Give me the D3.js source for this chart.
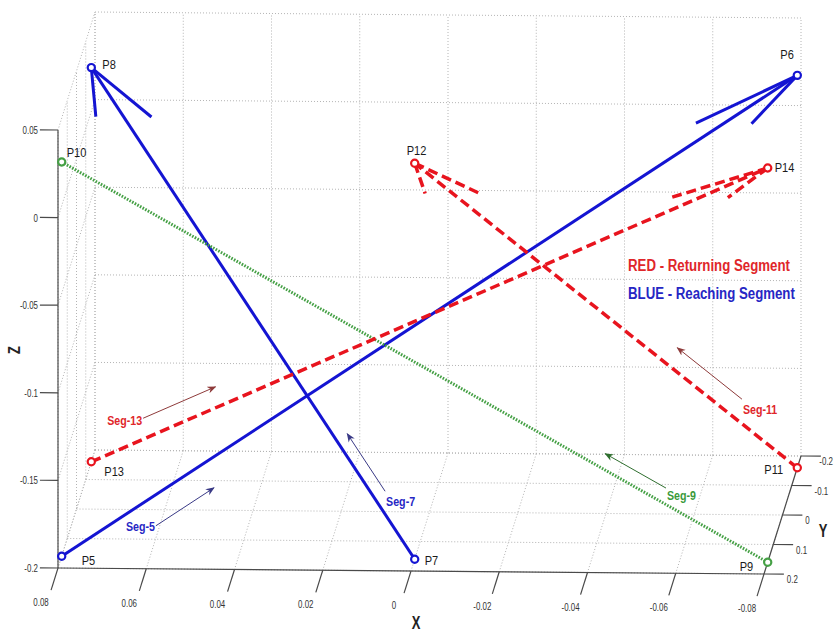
<!DOCTYPE html>
<html>
<head>
<meta charset="utf-8">
<script src="https://cdn.jsdelivr.net/npm/d3@7"></script>
<style>
  body { margin: 0; background: #fff; }
  svg { display: block; font-family: "Liberation Sans", Arial, sans-serif; }
</style>
</head>
<body>
<div id="chart"></div>
<script>
// points (x, y, z)
const pointNames = ["P5", "P6", "P7", "P8", "P9", "P10", "P11", "P12", "P13", "P14"];
const pointX = [0.08, -0.08, 0.0, 0.08, -0.08, 0.08, -0.08, 0.0, 0.08, -0.08];
const pointY = [0.16, -0.16, 0.16, -0.16, 0.16, 0.16, -0.16, 0.16, -0.16, 0.16];
const pointZ = [-0.2, 0.024, -0.2, 0.025, -0.2, 0.025, -0.2, 0.026, -0.2, 0.025];

// segments
const segNames = ["Seg-5", "Seg-7", "Seg-9", "Seg-11", "Seg-13"];
const segFrom = ["P5", "P7", "P9", "P11", "P13"];
const segTo = ["P6", "P8", "P10", "P12", "P14"];
const segKind = ["reach", "reach", "other", "return", "return"];

// ticks
const xTicks = [0.08, 0.06, 0.04, 0.02, 0, -0.02, -0.04, -0.06, -0.08];
const yTicks = [-0.2, -0.1, 0, 0.1, 0.2];
const zTicks = [0.05, 0, -0.05, -0.1, -0.15, -0.2];
const xTickLabels = ["0.08", "0.06", "0.04", "0.02", "0", "-0.02", "-0.04", "-0.06", "-0.08"];
const yTickLabels = ["-0.2", "-0.1", "0", "0.1", "0.2"];
const zTickLabels = ["0.05", "0", "-0.05", "-0.1", "-0.15", "-0.2"];

const legendLines = ["RED - Returning Segment", "BLUE - Reaching Segment"];

const W = 834, H = 635;
const xDom = [0.08, -0.08], yDom = [0.2, -0.2], zDom = [-0.2, 0.05];

// oblique projection built from linear scales
const sx = d3.scaleLinear().domain(xDom).range([58, 764]);
const sz = d3.scaleLinear().domain(zDom).range([568, 130]);
const depthX = d3.scaleLinear().domain(yDom).range([0, 37]);
const depthY = d3.scaleLinear().domain(yDom).range([0, -118]);
const tiltY = d3.scaleLinear().domain(xDom).range([0, 6]);
const proj = p => [sx(p[0]) + depthX(p[1]), sz(p[2]) + depthY(p[1]) + tiltY(p[0])];

const styles = {
  reach: { color: "#1414d2", dash: null, width: 3 },
  return: { color: "#e8141e", dash: "10,5", width: 3.5 },
  other: { color: "#45a045", dash: "1.6,1.4", width: 3 }
};
const segLabelColor = { reach: "#2626c4", return: "#e0262a", other: "#3a9a3a" };
const annotColor = { reach: "#3a3a86", return: "#8e3a3a", other: "#2e6e2e" };

// label offsets for the point names (px)
const pointLabelOffset = {
  P5: [20, 9], P6: [-17, -16], P7: [10, 6], P8: [11, 1], P9: [-28, 9],
  P10: [5, -5], P11: [-33, 6], P12: [-8, -8], P13: [13, 14], P14: [7, 4]
};
// annotation arrows: fraction along segment, offset from segment (px), label placement
const annotT = { "Seg-5": [0.109, 0.188], "Seg-7": [0.124, 0.241], "Seg-9": [0.154, 0.24], "Seg-11": [0.176, 0.345], "Seg-13": [0.088, 0.195] };
const annotOff = { "Seg-5": [14, 22], "Seg-7": [10.5, -7], "Seg-9": [7, -12.5], "Seg-11": [12, -15], "Seg-13": [-7.7, -17.7] };
const annotText = {
  "Seg-5": { anchor: "end", dx: -1, dy: 5 }, "Seg-7": { anchor: "start", dx: 1, dy: 15 },
  "Seg-9": { anchor: "start", dx: 1, dy: 12 }, "Seg-11": { anchor: "start", dx: 1, dy: 15 },
  "Seg-13": { anchor: "end", dx: -1, dy: 7 }
};

const pts = {};
pointNames.forEach((n, i) => pts[n] = [pointX[i], pointY[i], pointZ[i]]);

const svg = d3.select("#chart").append("svg").attr("width", W).attr("height", H);
svg.append("rect").attr("width", W).attr("height", H).attr("fill", "#fff");

const defs = svg.append("defs");
Object.keys(annotColor).forEach(k => {
  defs.append("marker")
    .attr("id", "ah-" + k)
    .attr("viewBox", "0 0 10 10")
    .attr("refX", 9).attr("refY", 5)
    .attr("markerWidth", 9).attr("markerHeight", 9)
    .attr("markerUnits", "userSpaceOnUse")
    .attr("orient", "auto")
    .append("path")
    .attr("d", "M0,1 L10,5 L0,9 L3,5 Z")
    .attr("fill", annotColor[k]);
});

function text(g, x, y, str, o) {
  return g.append("text")
    .attr("transform", `translate(${x},${y}) scale(${o.scale || 1},1)`)
    .attr("text-anchor", o.anchor || "start")
    .attr("font-size", o.size)
    .attr("font-weight", o.weight || "normal")
    .attr("fill", o.fill || "#222")
    .text(str);
}

// grid
const grid = svg.append("g")
  .attr("stroke", "#b4b4b4").attr("stroke-width", 1)
  .attr("stroke-dasharray", "1,2").attr("fill", "none");
const seg3 = (a, b) => { const p = proj(a), q = proj(b); grid.append("line").attr("x1", p[0]).attr("y1", p[1]).attr("x2", q[0]).attr("y2", q[1]); };
// back wall (y = -0.2)
xTicks.forEach(x => seg3([x, -0.2, -0.2], [x, -0.2, 0.05]));
zTicks.forEach(z => seg3([0.08, -0.2, z], [-0.08, -0.2, z]));
// floor (z = -0.2)
xTicks.forEach(x => seg3([x, -0.2, -0.2], [x, 0.2, -0.2]));
yTicks.forEach(y => seg3([0.08, y, -0.2], [-0.08, y, -0.2]));
// left wall (x = 0.08)
yTicks.forEach(y => seg3([0.08, y, -0.2], [0.08, y, 0.05]));
zTicks.forEach(z => seg3([0.08, -0.2, z], [0.08, 0.2, z]));

// axes
const axes = svg.append("g").attr("stroke", "#4a4a4a").attr("stroke-width", 1.2).attr("fill", "none");
const axLine = (a, b) => { const p = proj(a), q = proj(b); axes.append("line").attr("x1", p[0]).attr("y1", p[1]).attr("x2", q[0]).attr("y2", q[1]); };
axLine([0.08, 0.2, -0.2], [0.08, 0.2, 0.05]);   // z axis
axLine([0.08, 0.2, -0.2], [-0.08, 0.2, -0.2]);  // x axis
axLine([-0.08, 0.2, -0.2], [-0.08, -0.2, -0.2]); // y axis

const tickG = svg.append("g");
zTicks.forEach((z, i) => {
  const p = proj([0.08, 0.2, z]);
  axLine([0.08, 0.2, z], [0.0841, 0.2, z]);
  text(tickG, p[0] - 20, p[1] + 4, zTickLabels[i], { anchor: "end", size: 11, scale: 0.72, fill: "#333" });
});
xTicks.forEach((x, i) => {
  axLine([x, 0.2, -0.2], [x, 0.275, -0.2]);
  const q = proj([x, 0.275, -0.2]);
  text(tickG, q[0] - 10, q[1] + 16, xTickLabels[i], { anchor: "middle", size: 11, scale: 0.72, fill: "#333" });
});
yTicks.forEach((y, i) => {
  axLine([-0.08, y, -0.2], [-0.0845, y, -0.2]);
  const q = proj([-0.0845, y, -0.2]);
  const t = text(tickG, q[0] + 3, q[1] + 9, yTickLabels[i], { anchor: "start", size: 11, scale: 0.72, fill: "#333" });
  const w = t.node().getComputedTextLength() * 0.72;
  const x0 = Math.min(q[0] + 3, W - w - 1);
  t.attr("transform", `translate(${x0},${q[1] + 9}) scale(0.72,1)`);
});

// axis titles
svg.append("text").attr("transform", "translate(20,350) rotate(-90) scale(0.75,1)")
  .attr("text-anchor", "middle").attr("font-size", 17).attr("font-weight", "bold").attr("fill", "#222").text("Z");
text(svg, 416, 629, "X", { anchor: "middle", size: 18, weight: "bold", scale: 0.72 });
text(svg, 823, 537, "Y", { anchor: "middle", size: 18, weight: "bold", scale: 0.72 });

// segments with 3D arrowheads
const segG = svg.append("g").attr("fill", "none").attr("stroke-linecap", "butt");
segNames.forEach((s, i) => {
  const A = pts[segFrom[i]], B = pts[segTo[i]];
  const st = styles[segKind[i]];
  const a = proj(A), b = proj(B);
  const add = (p, q) => segG.append("line")
    .attr("x1", p[0]).attr("y1", p[1]).attr("x2", q[0]).attr("y2", q[1])
    .attr("stroke", st.color).attr("stroke-width", st.width)
    .attr("stroke-dasharray", st.dash);
  add(a, b);
  if (segKind[i] !== "other") {
    const v = B.map((c, k) => c - A[k]);
    const base = B.map((c, k) => c - 0.1 * v[k]);
    add(b, proj([base[0] + 0.0063, base[1], base[2]]));
    add(b, proj([base[0] - 0.0063, base[1], base[2]]));
  }
});

// point markers
const markG = svg.append("g");
segNames.forEach((s, i) => {
  const st = styles[segKind[i]];
  [segFrom[i], segTo[i]].forEach(n => {
    const p = proj(pts[n]);
    markG.append("circle").attr("cx", p[0]).attr("cy", p[1]).attr("r", 3.6)
      .attr("fill", "#fff").attr("stroke", st.color).attr("stroke-width", 2.2);
    const o = pointLabelOffset[n];
    text(markG, p[0] + o[0], p[1] + o[1], n, { size: 13, scale: 0.85, fill: "#1a1a1a" });
  });
});

// segment annotations
const annG = svg.append("g");
segNames.forEach((s, i) => {
  const A = proj(pts[segFrom[i]]), B = proj(pts[segTo[i]]);
  const k = segKind[i], t = annotT[s], off = annotOff[s];
  const at = u => [A[0] + (B[0] - A[0]) * u + off[0], A[1] + (B[1] - A[1]) * u + off[1]];
  const p = at(t[0]), q = at(t[1]);
  annG.append("line").attr("x1", p[0]).attr("y1", p[1]).attr("x2", q[0]).attr("y2", q[1])
    .attr("stroke", annotColor[k]).attr("stroke-width", 1)
    .attr("marker-end", `url(#ah-${k})`);
  const lt = annotText[s];
  text(annG, p[0] + lt.dx, p[1] + lt.dy, s, { anchor: lt.anchor, size: 13, weight: "bold", scale: 0.82, fill: segLabelColor[k] });
});

// legend text, squeezed horizontally to the reference width
const legG = svg.append("g");
const legColors = ["#e0262a", "#2626c4"];
const legWidth = [162, 167];
legendLines.forEach((l, i) => {
  const t = text(legG, 628, 271 + i * 28, l, { size: 17, weight: "bold", fill: legColors[i] });
  const k = legWidth[i] / t.node().getComputedTextLength();
  t.attr("transform", `translate(628,${271 + i * 28}) scale(${k},1)`);
});
</script>
</body>
</html>
